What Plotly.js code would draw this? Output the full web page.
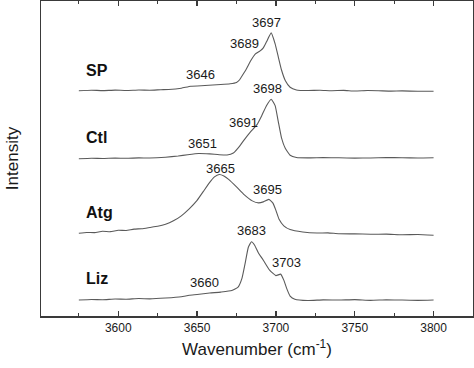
<!DOCTYPE html>
<html>
<head>
<meta charset="utf-8">
<script src="https://cdn.plot.ly/plotly-3.0.1.min.js"></script>
<style>html,body{margin:0;padding:0;background:#fff;}#chart{width:474px;height:368px;}</style>
</head>
<body>
<div id="chart"></div>
<script>
// ---- data (intensity above own baseline, arbitrary units) ----
const samples = ["SP", "Ctl", "Atg", "Liz"];
const offsets = [226, 158, 83, 16];

const spWn = [3575,3583,3590,3598,3605,3613,3620,3627,3632,3640,3646,3655,3665,3671,3675,3677,3679,3681,3684,3687,3690,3692,3694,3697,3699.5,3701.5,3703.5,3706,3709,3713,3720,3728,3735,3743,3750,3758,3765,3773,3780,3790,3800];
const spI  = [0,0.5,0.1,0.6,0.2,0.7,0.5,1,1.2,2.5,4.5,5.2,6.2,7,8.3,11,16,21,30,37,40,43,49,58,47,34,21,10,3.5,0.8,0.2,0.5,0,0.3,-0.3,0.2,0,-0.4,-0.2,-0.6,-0.5];

const ctlWn = [3575,3583,3590,3598,3605,3613,3620,3630,3638,3644,3651,3658,3664,3669,3673,3677,3680,3684,3688,3691,3694,3697,3699.5,3701.5,3703.5,3706,3709,3713,3720,3730,3740,3750,3760,3770,3780,3790,3800];
const ctlI  = [-0.3,0.2,0,0.4,0.2,0.6,0.5,1.3,2.5,3.8,5,4.6,3.8,3.5,5.5,12.5,19,27,34,43,53,59.5,53,37,21,10,3.3,1,0.6,0.9,0.7,0.4,0.5,0.9,0.8,0.5,0.7];

const atgWn = [3575,3580,3585,3590,3595,3600,3605,3610,3615,3620,3625,3630,3635,3640,3645,3650,3654,3658,3661,3664,3667,3670,3675,3680,3685,3689,3692,3695.5,3698,3700,3702,3705,3709,3717,3726,3733,3740,3750,3760,3770,3780,3790,3800];
const atgI  = [0,0.8,0.6,2,1.6,3,2.8,4.2,4.6,5.8,7,9,12.5,17.5,24.5,33,42,51,56.5,59,57.5,54,46.5,38.5,32.5,30.5,31.5,34,30.5,23,14,7.5,3.7,1.3,0.2,0.4,-0.5,-0.6,-1,-0.9,-1.5,-1.3,-2];

const lizWn = [3575,3583,3590,3598,3605,3613,3620,3630,3640,3645,3650,3658,3665,3672,3676,3678.5,3680.5,3682.5,3684.5,3686.5,3689,3692,3696,3700,3703,3705,3707,3709,3712,3720,3730,3740,3750,3760,3770,3780,3790,3800];
const lizI  = [0,0.6,0.3,1,0.8,1.5,1.2,2,3.3,4.8,5.5,7,8,9.5,13,22,37,53,58.5,55,47,40,30,24.5,26,20,11,4,0.8,-0.5,0.2,0,0.4,-0.3,0.2,0,-0.3,0];

const peakLabels = ["3697","3689","3646","3698","3691","3651","3665","3695","3683","3703","3660"];
const peakX      = [3694.2,3680,3652.3,3694.6,3679.3,3653.5,3665,3694.6,3684.7,3706.9,3655];
const peakY      = [294.3,273.3,242,228.7,193.7,173.3,147.7,127,85.3,53.3,33.7];
const sampleLabelY = [246,178.7,103.7,37.7];

const wnSets = [spWn, ctlWn, atgWn, lizWn];
const iSets  = [spI, ctlI, atgI, lizI];

const traces = samples.map((s, k) => ({
  x: wnSets[k],
  y: iSets[k].map(v => v + offsets[k]),
  type: 'scatter', mode: 'lines', name: s,
  line: {color: '#5a5a5a', width: 1.1, shape: 'spline', smoothing: 0.4},
  hoverinfo: 'x'
}));

const annotations = [];
peakLabels.forEach((t, i) => annotations.push({
  x: peakX[i], y: peakY[i], xref: 'x', yref: 'y', text: t, showarrow: false,
  xanchor: 'center', yanchor: 'middle',
  font: {family: 'Liberation Sans, Arial, sans-serif', size: 13, color: '#1a1a1a'}
}));
samples.forEach((s, k) => annotations.push({
  x: 3578.2, y: sampleLabelY[k], xref: 'x', yref: 'y', text: '<b>' + s + '</b>', showarrow: false,
  xanchor: 'left', yanchor: 'middle',
  font: {family: 'Liberation Sans, Arial, sans-serif', size: 16, color: '#111'}
}));

const layout = {
  width: 474, height: 368,
  margin: {l: 41, r: 1, t: 1, b: 52},
  paper_bgcolor: '#fff', plot_bgcolor: '#fff',
  showlegend: false,
  font: {family: 'Liberation Sans, Arial, sans-serif', color: '#1a1a1a'},
  xaxis: {
    range: [3551, 3825],
    tickvals: [3600, 3650, 3700, 3750, 3800],
    ticks: 'inside', ticklen: 5, tickwidth: 1.2, tickcolor: '#3a3a3a',
    minor: {tickvals: [3575, 3625, 3675, 3725, 3775], ticks: 'inside', ticklen: 3, tickwidth: 1.2, tickcolor: '#3a3a3a'},
    showline: true, linecolor: '#3a3a3a', linewidth: 1.5, mirror: 'ticks',
    showgrid: false, zeroline: false,
    tickfont: {size: 12, color: '#1a1a1a'},
    title: {text: 'Wavenumber (cm<sup>-1</sup>)', font: {size: 17, color: '#1a1a1a'}, standoff: 9}
  },
  yaxis: {
    range: [0, 316],
    showticklabels: false, ticks: '',
    showline: true, linecolor: '#3a3a3a', linewidth: 1.5, mirror: true,
    showgrid: false, zeroline: false,
    title: {text: 'Intensity', font: {size: 17, color: '#1a1a1a'}, standoff: 16}
  },
  annotations: annotations
};

Plotly.newPlot('chart', traces, layout, {displayModeBar: false, staticPlot: true});
</script>
</body>
</html>
